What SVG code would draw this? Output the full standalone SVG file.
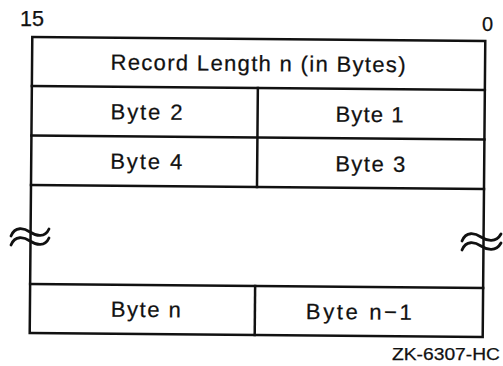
<svg xmlns="http://www.w3.org/2000/svg" width="503" height="366" viewBox="0 0 503 366">
<defs>
<style>
.ln{stroke:#111;stroke-width:2.5;fill:none;stroke-linecap:square}
.sq{stroke:#111;stroke-width:2.8;fill:none;stroke-linecap:round}
.t{font-family:"Liberation Sans",Arial,sans-serif;font-size:22px;fill:#111;stroke:#111;stroke-width:0.25;text-anchor:middle}
.lbl{font-family:"Liberation Sans",Arial,sans-serif;fill:#111;stroke:#111;stroke-width:0.25}
</style>
</defs>
<rect width="503" height="366" fill="#fff"/>
<text class="lbl" x="20" y="26" font-size="22" textLength="24" lengthAdjust="spacingAndGlyphs">15</text>
<text class="lbl" x="482" y="31" font-size="20">0</text>
<g transform="rotate(0.5 257 186)">
<g id="frame">
<rect class="ln" x="31" y="39" width="453" height="296"/>
</g>
<g id="connectors">
<line class="ln" x1="31" y1="88" x2="484" y2="88"/>
<line class="ln" x1="31" y1="137.5" x2="484" y2="137.5"/>
<line class="ln" x1="31" y1="187" x2="484" y2="187"/>
<line class="ln" x1="31" y1="286" x2="484" y2="286"/>
<line class="ln" x1="257" y1="88" x2="257" y2="187"/>
<line class="ln" x1="256" y1="286" x2="256" y2="335"/>
</g>
<g id="record-length"><text class="t" x="257" y="71" textLength="295" lengthAdjust="spacing">Record Length n (in Bytes)</text></g>
<g id="byte2"><text class="t" x="146" y="120.5" textLength="72" lengthAdjust="spacing">Byte 2</text></g>
<g id="byte1"><text class="t" x="369" y="121" textLength="68" lengthAdjust="spacing">Byte 1</text></g>
<g id="byte4"><text class="t" x="146" y="170" textLength="72" lengthAdjust="spacing">Byte 4</text></g>
<g id="byte3"><text class="t" x="370" y="170.5" textLength="70" lengthAdjust="spacing">Byte 3</text></g>
<g id="byten"><text class="t" x="147" y="318" textLength="70" lengthAdjust="spacing">Byte n</text></g>
<g id="byten-1"><text class="t" x="360" y="318.5" textLength="106" lengthAdjust="spacing">Byte n−1</text></g>
</g>
<g id="break-left">
<path class="sq" d="M11,236 C15,226 24,228 30,232 C36,236 45,238 49,229"/>
<path class="sq" d="M11,245 C15,235 24,237 30,241 C36,245 45,247 49,238"/>
</g>
<g id="break-right">
<path class="sq" d="M462,241 C466,231 475,233 481,237 C487,241 496,243 501,234"/>
<path class="sq" d="M462,250 C466,240 475,242 481,246 C487,250 496,252 501,243"/>
</g>
<text class="lbl" x="392" y="360" font-size="17" textLength="108" lengthAdjust="spacingAndGlyphs">ZK-6307-HC</text>
</svg>
